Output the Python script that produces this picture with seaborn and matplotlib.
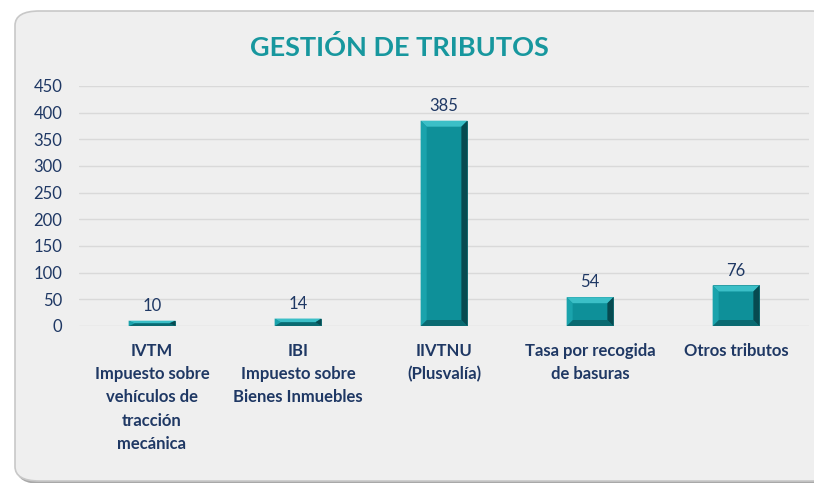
import matplotlib
matplotlib.use("Agg")
import matplotlib.pyplot as plt
import seaborn as sns
import pandas as pd
from matplotlib.patches import FancyBboxPatch, Polygon

categories = [
    "IVTM\nImpuesto sobre\nvehículos de\ntracción\nmecánica",
    "IBI\nImpuesto sobre\nBienes Inmuebles",
    "IIVTNU\n(Plusvalía)",
    "Tasa por recogida\nde basuras",
    "Otros tributos",
]
values = [10, 14, 385, 54, 76]
yticks = [0, 50, 100, 150, 200, 250, 300, 350, 400, 450]
title = "GESTIÓN DE TRIBUTOS"

sns.set_theme(style="white")
plt.rcParams["font.family"] = ["Lato", "DejaVu Sans"]

NAVY = "#1F3864"
TEAL = "#0E9099"

fig = plt.figure(figsize=(8.14, 4.83), dpi=100)
fig.patch.set_facecolor("white")

# panel background with shadow
shadow = FancyBboxPatch((17 / 814, 1 - 484 / 483), 820 / 814, 472 / 483,
                        boxstyle="round,pad=0,rounding_size=0.03",
                        transform=fig.transFigure, facecolor="#A8A8A8",
                        edgecolor="none", zorder=-20)
panel = FancyBboxPatch((15 / 814, 1 - 481 / 483), 820 / 814, 470 / 483,
                       boxstyle="round,pad=0,rounding_size=0.03",
                       transform=fig.transFigure, facecolor="#EFEFEF",
                       edgecolor="#C8C8C8", linewidth=1.2, zorder=-10)
fig.patches.extend([shadow, panel])

ax = fig.add_axes([79 / 814, 1 - 326 / 483, 730 / 814, 240 / 483])
ax.set_facecolor("none")
ax.patch.set_visible(False)

df = pd.DataFrame({"cat": categories, "val": values})
sns.barplot(data=df, x="cat", y="val", color=TEAL, saturation=1, width=0.32,
            ax=ax, edgecolor="#0A6F76", linewidth=0.6, zorder=3)

ax.set_ylim(0, 450)
ax.set_yticks(yticks)
ax.set_yticklabels([str(t) for t in yticks], fontsize=12, color=NAVY)
ax.set_xticks(range(len(categories)))
ax.set_xticklabels(categories, fontsize=12, fontweight="bold", color=NAVY,
                   linespacing=1.56, va="top")
ax.tick_params(axis="y", length=0, pad=12)
ax.tick_params(axis="x", length=0, pad=12)
ax.set_xlabel("")
ax.set_ylabel("")
for s in ax.spines.values():
    s.set_visible(False)
ax.yaxis.grid(True, color="#D9D9D9", linewidth=1.0, zorder=0)
ax.set_axisbelow(True)
ax.set_xlim(-0.5, len(categories) - 0.5)

# bevel effect derived from each bar's geometry
fig.canvas.draw()
inv = ax.transData.inverted()
px_x = abs(inv.transform((6, 0))[0] - inv.transform((0, 0))[0])
px_y = abs(inv.transform((0, 6))[1] - inv.transform((0, 0))[1])
for bar in list(ax.patches):
    x0 = bar.get_x()
    w = bar.get_width()
    y0 = bar.get_y()
    h = bar.get_height()
    x1, y1 = x0 + w, y0 + h
    bx = min(px_x, w / 2)
    by = min(px_y, h / 2)
    top = Polygon([(x0, y1), (x1, y1), (x1 - bx, y1 - by), (x0 + bx, y1 - by)],
                  facecolor="#3BBFC7", edgecolor="none", zorder=4)
    bottom = Polygon([(x0, y0), (x1, y0), (x1 - bx, y0 + by), (x0 + bx, y0 + by)],
                     facecolor="#0A6A71", edgecolor="none", zorder=4)
    left = Polygon([(x0, y0), (x0, y1), (x0 + bx, y1 - by), (x0 + bx, y0 + by)],
                   facecolor="#1AA3AC", edgecolor="none", zorder=4)
    right = Polygon([(x1, y0), (x1, y1), (x1 - bx, y1 - by), (x1 - bx, y0 + by)],
                    facecolor="#074A50", edgecolor="none", zorder=4)
    for p in (top, bottom, left, right):
        ax.add_patch(p)

ax.bar_label(ax.containers[0], labels=[str(v) for v in values], padding=5,
             fontsize=12, color=NAVY)

fig.text(399 / 814, 1 - 48 / 483, title, ha="center", va="center",
         fontsize=19.5, fontweight="bold", color="#17979E")

fig.savefig("out.png", dpi=100)
